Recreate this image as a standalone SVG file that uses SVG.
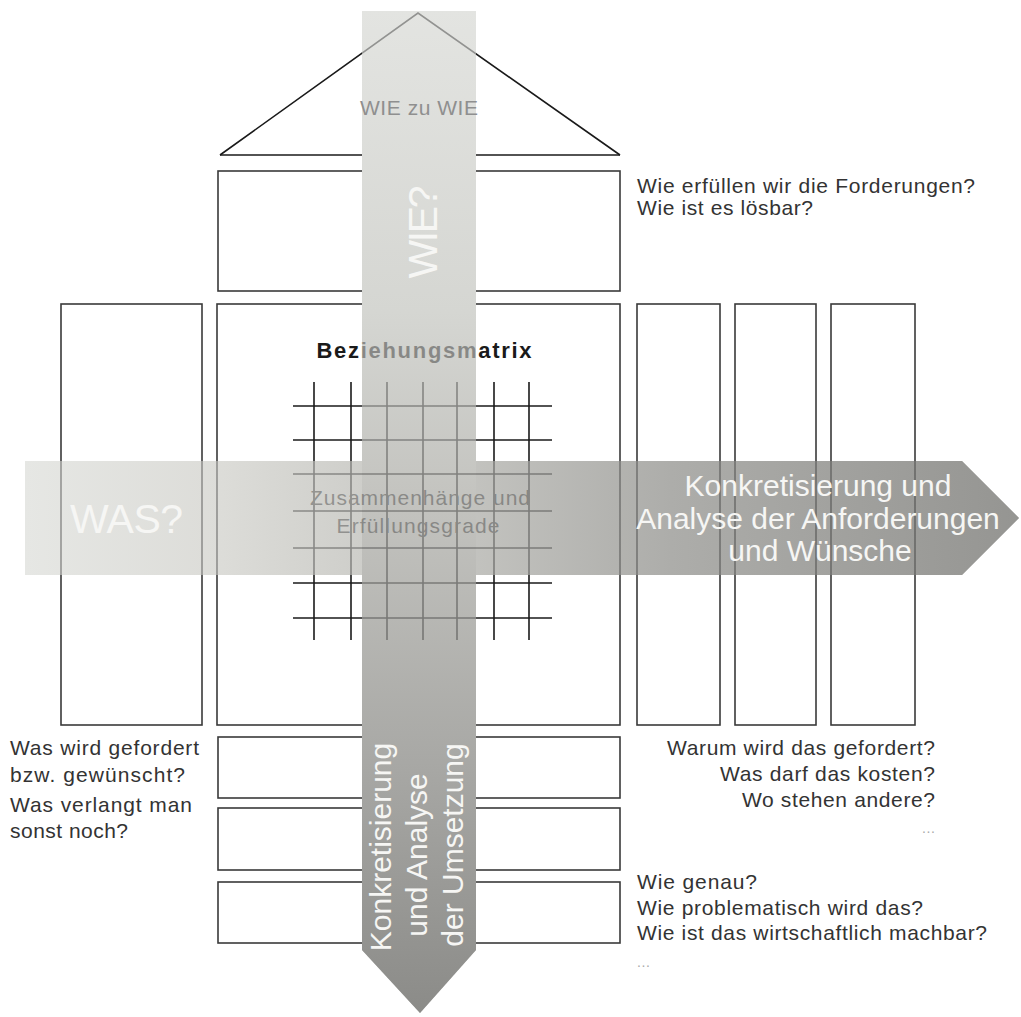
<svg xmlns="http://www.w3.org/2000/svg" width="1021" height="1017" viewBox="0 0 1021 1017">
<defs>
<linearGradient id="gv" x1="0" y1="11" x2="0" y2="1013" gradientUnits="userSpaceOnUse">
<stop offset="0" stop-color="#e3e4e1"/>
<stop offset="0.3" stop-color="#d5d6d2"/>
<stop offset="0.5" stop-color="#c2c2be"/>
<stop offset="0.75" stop-color="#a8a8a5"/>
<stop offset="1" stop-color="#8b8b88"/>
</linearGradient>
<linearGradient id="gh" x1="25" y1="0" x2="1019" y2="0" gradientUnits="userSpaceOnUse">
<stop offset="0" stop-color="#e6e7e4"/>
<stop offset="0.2" stop-color="#dcdcd8"/>
<stop offset="0.4" stop-color="#c8c8c4"/>
<stop offset="0.65" stop-color="#adadaa"/>
<stop offset="1" stop-color="#959592"/>
</linearGradient>
<path id="harrow" d="M25,461 H962 L1019,518 L962,575 H25 Z"/>
<path id="varrow" d="M362,11 H476 V950 L420,1013 L362,950 Z"/>
</defs>
<style>
.box{fill:none;stroke:#3a3a3a;stroke-width:1.6}
.ln{stroke:#1a1a1a;stroke-width:1.6;fill:none}
.t{font-family:"Liberation Sans",Arial,sans-serif;font-size:21px;fill:#333}
.dots{font-family:"Liberation Sans",Arial,sans-serif;font-size:14px;fill:#aaa}
.w{font-family:"Liberation Sans",Arial,sans-serif;fill:#f6f6f4}
</style>

<g id="boxes">
<line class="ln" x1="220" y1="155" x2="620" y2="155" stroke-width="1.3"/>
<rect id="wie-box" class="box" x="218" y="171" width="402" height="120"/>
<rect id="was-box" class="box" x="61" y="304" width="141" height="421"/>
<rect id="matrix-box" class="box" x="217" y="304" width="403" height="421"/>
<rect id="col1" class="box" x="637" y="304" width="83" height="421"/>
<rect id="col2" class="box" x="735" y="304" width="81" height="421"/>
<rect id="col3" class="box" x="831" y="304" width="84" height="421"/>
<rect id="row1" class="box" x="218" y="737" width="402" height="61"/>
<rect id="row2" class="box" x="218" y="808" width="402" height="62"/>
<rect id="row3" class="box" x="218" y="882" width="402" height="61"/>
</g>

<g id="arrows-base">
<use href="#harrow" fill="url(#gh)"/>
<use href="#varrow" fill="url(#gv)"/>
</g>

<g id="under">
<polyline class="ln" points="220,155 418,13 620,155" stroke-width="1.3"/>
<g id="grid" class="ln">
<line x1="314" y1="382" x2="314" y2="640"/>
<line x1="351" y1="382" x2="351" y2="640"/>
<line x1="387" y1="382" x2="387" y2="640"/>
<line x1="423" y1="382" x2="423" y2="640"/>
<line x1="457" y1="382" x2="457" y2="640"/>
<line x1="494" y1="382" x2="494" y2="640"/>
<line x1="529" y1="382" x2="529" y2="640"/>
<line x1="293" y1="406" x2="552" y2="406"/>
<line x1="293" y1="440" x2="552" y2="440"/>
<line x1="293" y1="474" x2="552" y2="474"/>
<line x1="293" y1="511" x2="552" y2="511"/>
<line x1="293" y1="548" x2="552" y2="548"/>
<line x1="293" y1="583" x2="552" y2="583"/>
<line x1="293" y1="618" x2="552" y2="618"/>
</g>
<g class="ln">
<line x1="61" y1="461" x2="61" y2="575"/>
<line x1="202" y1="461" x2="202" y2="575"/>
<line x1="217" y1="461" x2="217" y2="575"/>
<line x1="620" y1="461" x2="620" y2="575"/>
<line x1="637" y1="461" x2="637" y2="575"/>
<line x1="720" y1="461" x2="720" y2="575"/>
<line x1="735" y1="461" x2="735" y2="575"/>
<line x1="816" y1="461" x2="816" y2="575"/>
<line x1="831" y1="461" x2="831" y2="575"/>
<line x1="915" y1="461" x2="915" y2="575"/>
</g>
<text x="424" y="358" text-anchor="middle" font-family="Liberation Sans, Arial, sans-serif" font-size="22" font-weight="bold" fill="#1a1a1a" textLength="215">Beziehungsmatrix</text>
<text x="420" y="505" text-anchor="middle" font-family="Liberation Sans, Arial, sans-serif" font-size="21" fill="#333" textLength="220">Zusammenhänge und</text>
<text x="418" y="533" text-anchor="middle" font-family="Liberation Sans, Arial, sans-serif" font-size="21" fill="#333" textLength="163">Erfüllungsgrade</text>
</g>

<g id="arrows-overlay" opacity="0.6">
<use href="#harrow" fill="url(#gh)"/>
<use href="#varrow" fill="url(#gv)"/>
</g>

<g id="arrow-labels">
<text x="419" y="115" text-anchor="middle" font-family="Liberation Sans, Arial, sans-serif" font-size="21" fill="#8f8f8f" textLength="118">WIE zu WIE</text>
<text class="w" transform="translate(437,232) rotate(-90)" text-anchor="middle" font-size="41" textLength="93">WIE?</text>
<text class="w" x="70" y="533" font-size="41" textLength="113">WAS?</text>
<g class="w" font-size="30" text-anchor="middle">
<text x="818" y="496">Konkretisierung und</text>
<text x="818" y="529">Analyse der Anforderungen</text>
<text x="820" y="561">und Wünsche</text>
</g>
<g class="w" font-size="30" text-anchor="middle">
<text transform="translate(391,847) rotate(-90)">Konkretisierung</text>
<text transform="translate(427,855) rotate(-90)">und Analyse</text>
<text transform="translate(463,845) rotate(-90)">der Umsetzung</text>
</g>
</g>

<g id="notes-wie">
<text class="t" x="637" y="193" textLength="338">Wie erfüllen wir die Forderungen?</text>
<text class="t" x="637" y="215" textLength="176">Wie ist es lösbar?</text>
</g>
<g id="notes-was">
<text class="t" x="10" y="755" textLength="189">Was wird gefordert</text>
<text class="t" x="10" y="782" textLength="175">bzw. gewünscht?</text>
<text class="t" x="10" y="812" textLength="182">Was verlangt man</text>
<text class="t" x="10" y="838" textLength="118">sonst noch?</text>
</g>
<g id="notes-warum">
<text class="t" x="667" y="755" textLength="268">Warum wird das gefordert?</text>
<text class="t" x="720" y="781" textLength="215">Was darf das kosten?</text>
<text class="t" x="742" y="807" textLength="193">Wo stehen andere?</text>
<text class="dots" x="922" y="833" textLength="13">...</text>
</g>
<g id="notes-wie-genau">
<text class="t" x="637" y="889" textLength="120">Wie genau?</text>
<text class="t" x="637" y="915" textLength="286">Wie problematisch wird das?</text>
<text class="t" x="637" y="940" textLength="350">Wie ist das wirtschaftlich machbar?</text>
<text class="dots" x="637" y="967" textLength="13">...</text>
</g>
</svg>
